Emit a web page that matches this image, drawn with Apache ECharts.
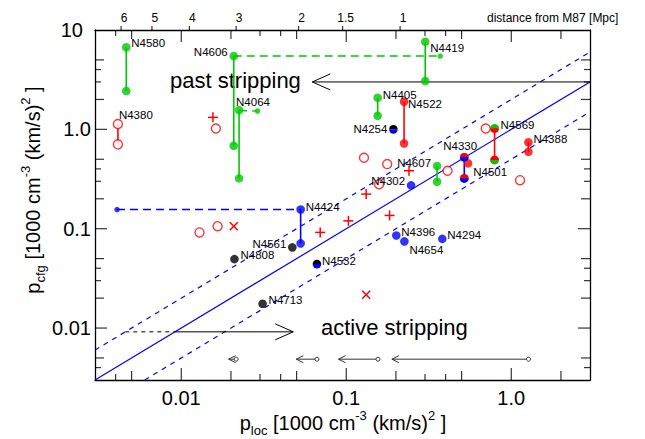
<!DOCTYPE html>
<html><head><meta charset="utf-8">
<script src="https://cdn.jsdelivr.net/npm/echarts@6/dist/echarts.min.js"></script>
<style>html,body{margin:0;padding:0;background:#fff}#c{width:645px;height:439px}</style>
</head><body><div id="c"></div>
<script>
const FONT = '"Liberation Sans", Arial, Helvetica, sans-serif';

// ---- axes ----
const xRange = [0.003, 3];
const yRange = [0.003, 10];
const xTickValues = [0.01, 0.1, 1];
const xTickLabels = ['0.01', '0.1', '1.0'];
const yTickValues = [0.01, 0.1, 1, 10];
const yTickLabels = ['0.01', '0.1', '1.0', '10'];
const xAllTicks = [0.004, 0.005, 0.01, 0.02, 0.03, 0.04, 0.05, 0.1, 0.2, 0.3, 0.4, 0.5, 1, 2];
const yAllTicks = [0.004, 0.005, 0.01, 0.02, 0.03, 0.04, 0.05, 0.1, 0.2, 0.3, 0.4, 0.5, 1, 2, 3, 4, 5];
// top axis: distance from M87 [Mpc] placed at p_loc values
const distLabels = ['6', '5', '4', '3', '2', '1.5', '1'];
const distP = [0.00432, 0.00664, 0.0112, 0.0215, 0.0514, 0.095, 0.212];

// ---- data: vertical pairs [p_loc, p_cfg top, p_cfg bottom] ----
const greenVert = [[0.00464, 6.7, 2.43], [0.0208, 5.47, 0.684], [0.0224, 1.56, 0.321],
                   [0.301, 7.6, 3.06], [0.155, 2.08, 1.37], [0.355, 0.427, 0.297]];
const redVert = [[0.224, 1.90, 0.722], [0.792, 1.02, 0.491], [1.27, 0.74, 0.594]];
const redOpenVert = [[0.00413, 1.13, 0.706]];
const blueVert = [[0.0529, 0.156, 0.0711], [0.519, 0.523, 0.321]];
// dashed horizontals [x1, y1, x2, y2]
const greenDashed = [[0.0208, 5.47, 0.371, 5.47], [0.0224, 1.55, 0.029, 1.53]];
const blueDashed = [[0.00408, 0.156, 0.0529, 0.156]];
const greenSmallDots = [[0.371, 5.47], [0.029, 1.53]];
const blueSmallDots = [[0.00408, 0.156]];
// single markers
const redFilled = [[0.547, 0.455]];
const blueFilled = [[0.247, 0.273], [0.201, 0.0855], [0.225, 0.0745], [0.382, 0.079]];
const blackFilled = [[0.0471, 0.0648], [0.021, 0.0494], [0.0311, 0.01754]];
const halfBlackBlue = [[0.193, 1.0], [0.0664, 0.044]];
const halfGreenRed = [[0.792, 1.02]];
const halfRedGreen = [[0.792, 0.491]];
const halfRedBlue = [[0.519, 0.523], [0.519, 0.321]];
const redOpen = [[0.0162, 1.02], [0.0129, 0.0918], [0.0166, 0.106], [0.128, 0.518], [0.177, 0.447],
                 [0.411, 0.383], [0.70, 1.02], [0.158, 0.28], [1.13, 0.308]];
const redPlus = [[0.01556, 1.32], [0.0695, 0.0918], [0.24, 0.383], [0.132, 0.223], [0.103, 0.12], [0.183, 0.136]];
const redCross = [[0.0208, 0.106], [0.132, 0.0216]];
// relation lines
const diagSolid = [[0.003, 0.003, 3, 3]];
const diagDashed = [[0.003, 0.006, 3, 6], [0.006, 0.003, 3, 1.5]];
// arrows [from x, from y, tip x, tip y]
const pastArrow = [[3, 3, 0.0622, 3]];
const activeDashed = [[0.00458, 0.00916, 0.00916, 0.00916]];
const activeArrow = [[0.00916, 0.00916, 0.0477, 0.00916]];
const bottomArrows = [[0.0215, 0.00486, 0.01936, 0.00486], [0.0664, 0.00486, 0.0498, 0.00486],
                      [0.1556, 0.00486, 0.0897, 0.00486], [1.273, 0.00486, 0.189, 0.00486]];
// galaxy labels and the marker each belongs to
const labelNames = ['N4580','N4380','N4606','N4064','N4419','N4405','N4522','N4254','N4569','N4388','N4330',
                    'N4607','N4501','N4302','N4424','N4561','N4808','N4713','N4532','N4396','N4654','N4294'];
const labelAnchors = [[0.00464,6.7],[0.00413,1.13],[0.0208,5.47],[0.0224,1.56],[0.301,7.6],[0.155,2.08],
                      [0.224,1.90],[0.193,1.0],[0.792,1.02],[1.27,0.74],[0.519,0.523],[0.355,0.427],
                      [0.519,0.321],[0.247,0.273],[0.0529,0.156],[0.0471,0.0648],[0.021,0.0494],
                      [0.0311,0.01754],[0.0664,0.044],[0.201,0.0855],[0.225,0.0745],[0.382,0.079]];
// label placement (style): [dx, dy, align]
const labelPlace = [[5,-4,'left'],[1,-9,'left'],[-6,-4,'right'],[-3,-8,'left'],[5,6,'left'],[5,-3,'left'],
                    [4,2,'left'],[-6,0,'right'],[6,-3,'left'],[5,-3,'left'],[-21,-11,'left'],[-6,-3,'right'],
                    [9,-6,'left'],[-6,-4,'right'],[5,-3,'left'],[-6,-3,'right'],[6,-4,'left'],[6,-4,'left'],
                    [5,-3,'left'],[5,-3,'left'],[5,9,'left'],[5,-4,'left']];

const GREEN = '#00c800', RED = '#ff0000', BLUE = '#0000ff', BLACK = '#000000';

function fmt(values, labels, rich10) {
  return v => {
    for (let i = 0; i < values.length; i++) {
      if (Math.abs(Math.log10(v) - Math.log10(values[i])) < 1e-6) {
        if (rich10 && labels[i] === '10') return '{t|10}';
        return labels[i];
      }
    }
    return '';
  };
}
function segSeries(segs, color, width, dash, z) {
  return {
    type: 'custom', coordinateSystem: 'cartesian2d', silent: true, z: z || 3, data: segs,
    renderItem(params, api) {
      const a = api.coord([api.value(0), api.value(1)]);
      const b = api.coord([api.value(2), api.value(3)]);
      return { type: 'line', shape: { x1: a[0], y1: a[1], x2: b[0], y2: b[1] },
               style: { stroke: color, lineWidth: width, lineDash: dash || null } };
    }
  };
}
function arrowSeries(segs, color, width, len, half, startCircle) {
  return {
    type: 'custom', coordinateSystem: 'cartesian2d', silent: true, z: 4, data: segs,
    renderItem(params, api) {
      const a = api.coord([api.value(0), api.value(1)]);
      const b = api.coord([api.value(2), api.value(3)]);
      const dx = b[0] - a[0], dy = b[1] - a[1];
      const L = Math.sqrt(dx * dx + dy * dy) || 1;
      const ux = dx / L, uy = dy / L;
      const ch = [
        { type: 'line', shape: { x1: a[0], y1: a[1], x2: b[0], y2: b[1] }, style: { stroke: color, lineWidth: width } },
        { type: 'polyline', shape: { points: [[b[0] - ux * len - uy * half, b[1] - uy * len + ux * half], [b[0], b[1]],
                                              [b[0] - ux * len + uy * half, b[1] - uy * len - ux * half]] },
          style: { stroke: color, lineWidth: width, fill: null } }
      ];
      if (startCircle) ch.push({ type: 'circle', shape: { cx: a[0], cy: a[1], r: startCircle },
                                 style: { stroke: color, lineWidth: width, fill: '#fff' } });
      return { type: 'group', children: ch };
    }
  };
}
function dotSeries(pts, color, size, z) {
  return { type: 'scatter', data: pts, symbol: 'circle', symbolSize: size, z: z || 5, silent: true, clip: false,
           itemStyle: { color: color, borderWidth: 0 } };
}
function halfSeries(pts, topColor, botColor) {
  return {
    type: 'custom', coordinateSystem: 'cartesian2d', silent: true, z: 6, data: pts,
    renderItem(params, api) {
      const c = api.coord([api.value(0), api.value(1)]);
      return { type: 'group', children: [
        { type: 'sector', shape: { cx: c[0], cy: c[1], r: 4.3, r0: 0, startAngle: Math.PI, endAngle: 2 * Math.PI }, style: { fill: topColor } },
        { type: 'sector', shape: { cx: c[0], cy: c[1], r: 4.3, r0: 0, startAngle: 0, endAngle: Math.PI }, style: { fill: botColor } }
      ] };
    }
  };
}
function markSeries(pts, kind) {
  return {
    type: 'custom', coordinateSystem: 'cartesian2d', silent: true, z: 5, data: pts,
    renderItem(params, api) {
      const c = api.coord([api.value(0), api.value(1)]);
      const s = 5;
      const lines = kind === 'plus'
        ? [[c[0] - s, c[1], c[0] + s, c[1]], [c[0], c[1] - s, c[0], c[1] + s]]
        : [[c[0] - 4, c[1] - 4, c[0] + 4, c[1] + 4], [c[0] - 4, c[1] + 4, c[0] + 4, c[1] - 4]];
      return { type: 'group', children: lines.map(l => ({ type: 'line', shape: { x1: l[0], y1: l[1], x2: l[2], y2: l[3] },
                                                        style: { stroke: RED, lineWidth: 1.5 } })) };
    }
  };
}
const vertToSeg = arr => arr.map(p => [p[0], p[1], p[0], p[2]]);
const vertToPts = arr => arr.flatMap(p => [[p[0], p[1]], [p[0], p[2]]]);

function tickLen(v) {
  const e = Math.floor(Math.log10(v) + 1e-9);
  const m = Math.round(v / Math.pow(10, e));
  if (m === 1) return 12;
  if (m === 2 || m === 5) return 9;
  return 6;
}
// tick marks as thin rect symbols placed on the axes through the scales, pushed inward
function tickItems(values, side) {
  return values.map(v => {
    const L = tickLen(v);
    if (side === 'bottom') return { value: [v, yRange[0]], symbolSize: [1.2, L], symbolOffset: [0, -L / 2] };
    if (side === 'top') return { value: [v, yRange[1]], symbolSize: [1.2, L], symbolOffset: [0, L / 2] };
    if (side === 'left') return { value: [xRange[0], v], symbolSize: [L, 1.2], symbolOffset: [L / 2, 0] };
    return { value: [xRange[1], v], symbolSize: [L, 1.2], symbolOffset: [-L / 2, 0] };
  });
}
const tickData = [].concat(tickItems(xAllTicks, 'bottom'), tickItems(xAllTicks, 'top'),
                           tickItems(yAllTicks, 'left'), tickItems(yAllTicks, 'right'),
                           distP.map(p => ({ value: [p, yRange[1]], symbolSize: [1.2, 4], symbolOffset: [0, -2] })));

const series = [
  // relation lines
  segSeries(diagSolid, BLUE, 1.2, null, 2),
  segSeries(diagDashed, BLUE, 1.2, [5, 5], 2),
  // arrows
  arrowSeries(pastArrow, '#000', 1, 18, 8, 0),
  segSeries(activeDashed, '#000', 1, [4, 4], 4),
  arrowSeries(activeArrow, '#000', 1, 18, 8, 0),
  arrowSeries(bottomArrows, '#333', 1, 7, 3.5, 2),
  // connecting lines
  segSeries(vertToSeg(greenVert), GREEN, 1.6),
  segSeries(vertToSeg(redVert), RED, 1.6),
  segSeries(vertToSeg(redOpenVert), RED, 1.6),
  segSeries(vertToSeg(blueVert), BLUE, 1.6),
  segSeries(greenDashed, GREEN, 1.4, [8, 5]),
  segSeries(blueDashed, BLUE, 1.6, [8, 5]),
  // markers
  dotSeries(vertToPts(greenVert), GREEN, 8.6),
  dotSeries(vertToPts(redVert), RED, 8.6),
  dotSeries(vertToPts(blueVert), BLUE, 8.6),
  dotSeries(greenSmallDots, GREEN, 5.5),
  dotSeries(blueSmallDots, BLUE, 5.5),
  dotSeries(redFilled, RED, 8.6),
  dotSeries(blueFilled, BLUE, 8.6),
  dotSeries(blackFilled, BLACK, 8.6),
  { type: 'scatter', data: redOpen.concat(vertToPts(redOpenVert)), symbol: 'circle', symbolSize: 9, z: 5, silent: true, clip: false,
    itemStyle: { color: '#fff', borderColor: RED, borderWidth: 1.4 } },
  markSeries(redPlus, 'plus'),
  markSeries(redCross, 'cross'),
  halfSeries(halfBlackBlue, BLACK, BLUE),
  halfSeries(halfGreenRed, GREEN, RED),
  halfSeries(halfRedGreen, RED, GREEN),
  halfSeries(halfRedBlue, RED, BLUE),
  // galaxy labels
  { type: 'custom', coordinateSystem: 'cartesian2d', silent: true, z: 7, data: labelAnchors,
    renderItem(params, api) {
      const c = api.coord([api.value(0), api.value(1)]);
      const p = labelPlace[params.dataIndex];
      return { type: 'text', x: c[0] + p[0], y: c[1] + p[1],
               style: { text: labelNames[params.dataIndex], font: '11.5px ' + FONT, fill: '#000', textAlign: p[2], textVerticalAlign: 'middle' } };
    } },
  // top distance axis labels
  { type: 'custom', coordinateSystem: 'cartesian2d', silent: true, z: 8, data: distP.map(v => [v, 1]),
    renderItem(params, api) {
      const x = api.coord([api.value(0), 1])[0];
      const cs = params.coordSys;
      return { type: 'text', x: x + 3, y: cs.y - 12,
          style: { text: distLabels[params.dataIndex], font: '12px ' + FONT, fill: '#000', textAlign: 'center', textVerticalAlign: 'middle' } };
    } },
  // axis tick marks (inward, all four sides) + distance ticks
  { type: 'scatter', data: tickData, symbol: 'rect', clip: false, silent: true, z: 9,
    itemStyle: { color: '#000', borderWidth: 0 } }
];

const axisLineStyle = { show: true, lineStyle: { color: '#000', width: 1.3 } };
const labelStyle = { color: '#000', fontSize: 20, fontFamily: FONT };

const option = {
  animation: false,
  backgroundColor: '#fff',
  grid: { left: 95, right: 55, top: 30, bottom: 59 },
  xAxis: [
    { type: 'log', logBase: 10, min: xRange[0], max: xRange[1], position: 'bottom',
      axisLine: axisLineStyle, axisTick: { show: false }, splitLine: { show: false },
      axisLabel: Object.assign({ formatter: fmt(xTickValues, xTickLabels), margin: 8 }, labelStyle) },
    { type: 'log', logBase: 10, min: xRange[0], max: xRange[1], position: 'top',
      axisLine: axisLineStyle, axisTick: { show: false }, splitLine: { show: false }, axisLabel: { show: false } }
  ],
  yAxis: [
    { type: 'log', logBase: 10, min: yRange[0], max: yRange[1], position: 'left',
      axisLine: axisLineStyle, axisTick: { show: false }, splitLine: { show: false },
      axisLabel: Object.assign({ formatter: fmt(yTickValues, yTickLabels, true), margin: 4,
        rich: { t: { fontSize: 20, fontFamily: FONT, color: '#000', padding: [0, 8, 0, 0] } } }, labelStyle) },
    { type: 'log', logBase: 10, min: yRange[0], max: yRange[1], position: 'right',
      axisLine: axisLineStyle, axisTick: { show: false }, splitLine: { show: false }, axisLabel: { show: false } }
  ],
  graphic: [
    { type: 'text', x: 170, y: 80, silent: true,
      style: { text: 'past stripping', font: '22px ' + FONT, fill: '#000', textAlign: 'left', textVerticalAlign: 'middle' } },
    { type: 'text', x: 321, y: 327, silent: true,
      style: { text: 'active stripping', font: '22px ' + FONT, fill: '#000', textAlign: 'left', textVerticalAlign: 'middle' } },
    { type: 'text', x: 487, y: 17.5, silent: true,
      style: { text: 'distance from M87 [Mpc]', font: '12px ' + FONT, fill: '#000', textAlign: 'left', textVerticalAlign: 'middle' } },
    { type: 'text', x: 343, y: 423, silent: true,
      style: { text: '{m|p}{s|loc}{m| [1000 cm}{p|-3}{m| (km/s)}{p|2}{m| ]}', textAlign: 'center', textVerticalAlign: 'middle',
        rich: { m: { fontSize: 20, fontFamily: FONT, fill: '#000', lineHeight: 28, verticalAlign: 'middle' },
                s: { fontSize: 13, fontFamily: FONT, fill: '#000', lineHeight: 28, verticalAlign: 'bottom' },
                p: { fontSize: 13, fontFamily: FONT, fill: '#000', lineHeight: 28, verticalAlign: 'top' } } } },
    { type: 'text', x: 33, y: 190, rotation: Math.PI / 2, silent: true,
      style: { text: '{m|p}{s|cfg}{m| [1000 cm}{p|-3}{m| (km/s)}{p|2}{m| ]}', textAlign: 'center', textVerticalAlign: 'middle',
        rich: { m: { fontSize: 20, fontFamily: FONT, fill: '#000', lineHeight: 28, verticalAlign: 'middle' },
                s: { fontSize: 13, fontFamily: FONT, fill: '#000', lineHeight: 28, verticalAlign: 'bottom' },
                p: { fontSize: 13, fontFamily: FONT, fill: '#000', lineHeight: 28, verticalAlign: 'top' } } } }
  ],
  series: series
};

const chart = echarts.init(document.getElementById('c'), null, { renderer: 'svg' });
chart.setOption(option);
</script>
</body></html>
